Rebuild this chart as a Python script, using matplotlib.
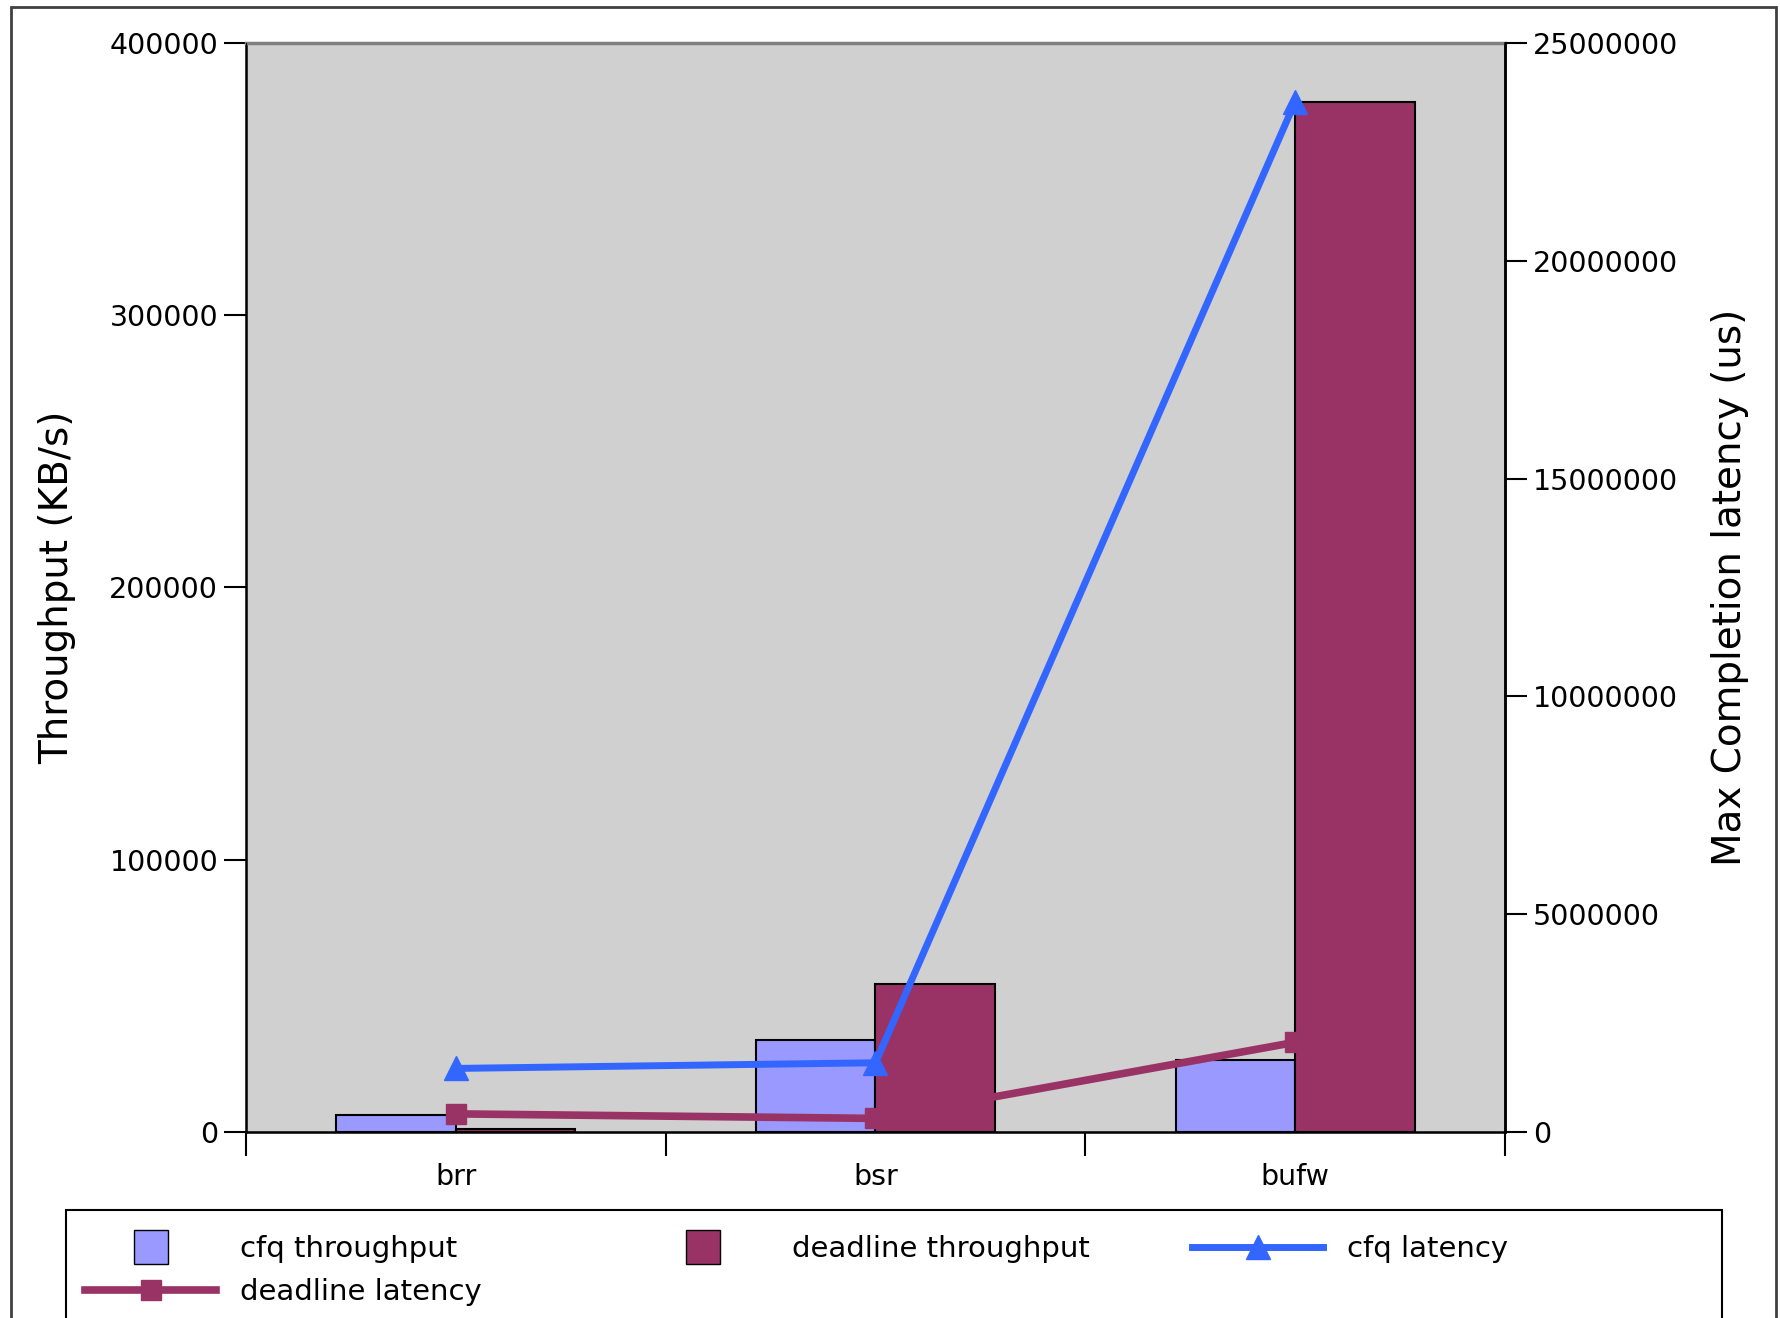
import numpy as np
import matplotlib
matplotlib.use('Agg')
import matplotlib.pyplot as plt
from matplotlib.lines import Line2D
from matplotlib.patches import Rectangle

# data
categories = ['brr', 'bsr', 'bufw']
cfq_throughput = [6300, 33800, 26300]
deadline_throughput = [1000, 54200, 378300]
cfq_latency = [1460000, 1590000, 23650000]
deadline_latency = [417000, 313000, 2060000]

left_ticks = [0, 100000, 200000, 300000, 400000]
right_ticks = [0, 5000000, 10000000, 15000000, 20000000, 25000000]

cfq_bar_color = '#9999FF'
deadline_bar_color = '#993366'
cfq_line_color = '#3366FF'
deadline_line_color = '#993366'

plt.rcParams['font.family'] = ['DejaVu Sans']

fig = plt.figure(figsize=(17.8, 13.18), dpi=100)
ax = fig.add_axes([0.1382, 0.1411, 0.7073, 0.8263])
ax.set_facecolor('#D0D0D0')

x = np.arange(len(categories))
w = 0.285
ax.bar(x - w / 2, cfq_throughput, w, color=cfq_bar_color, edgecolor='black', linewidth=1.5, zorder=2)
ax.bar(x + w / 2, deadline_throughput, w, color=deadline_bar_color, edgecolor='black', linewidth=1.5, zorder=2)

ax.set_xlim(-0.5, 2.5)
ax.set_ylim(0, 400000)
ax.set_yticks(left_ticks)
ax.set_yticklabels([str(t) for t in left_ticks])
ax.set_xticks(x)
ax.set_xticklabels(categories)
ax.set_xticks([-0.5, 0.5, 1.5, 2.5], minor=True)
ax.tick_params(axis='x', which='major', length=0, labelsize=20.5, pad=22)
ax.tick_params(axis='x', which='minor', length=17, width=1.5, direction='out')
ax.tick_params(axis='y', length=16, width=1.5, labelsize=20.5, pad=4)
ax.set_ylabel('Throughput (KB/s)', fontsize=28, labelpad=24)

for side in ['left', 'bottom', 'right']:
    ax.spines[side].set_linewidth(1.8)
    ax.spines[side].set_color('black')
ax.spines['top'].set_color('#808080')
ax.spines['top'].set_linewidth(2.5)

ax2 = ax.twinx()
ax2.set_ylim(0, 25000000)
ax2.set_yticks(right_ticks)
ax2.set_yticklabels([str(t) for t in right_ticks])
ax2.tick_params(axis='y', length=16, width=1.5, labelsize=20.5, pad=4)
ax2.set_ylabel('Max Completion latency (us)', fontsize=28, labelpad=24)
ax2.spines['right'].set_linewidth(1.8)
ax2.spines['top'].set_visible(False)

ax2.plot(x, cfq_latency, color=cfq_line_color, linewidth=5, marker='^', markersize=17, zorder=3)
ax2.plot(x, deadline_latency, color=deadline_line_color, linewidth=5.5, marker='s', markersize=15, zorder=3)

# legend frame (runs off the bottom of the picture, as in the reference)
fig.patches.append(Rectangle((0.0371, -0.05), 0.9305, 0.1319, transform=fig.transFigure,
                             fill=False, edgecolor='black', linewidth=1.5))

# one legend per entry so each sits where it does in the reference
entries = [
    (Line2D([], [], linestyle='none', marker='s', markersize=24,
            markerfacecolor=cfq_bar_color, markeredgecolor='black'), 'cfq throughput', 0.0478, 0.0524),
    (Line2D([], [], linestyle='none', marker='s', markersize=24,
            markerfacecolor=deadline_bar_color, markeredgecolor='black'), 'deadline throughput', 0.3583, 0.0524),
    (Line2D([], [], color=cfq_line_color, linewidth=5, marker='^', markersize=17), 'cfq latency', 0.6697, 0.0524),
    (Line2D([], [], color=deadline_line_color, linewidth=5.5, marker='s', markersize=15), 'deadline latency', 0.0478, 0.0197),
]
for handle, label, lx, ly in entries:
    fig.legend([handle], [label], loc='center left', bbox_to_anchor=(lx, ly),
               frameon=False, fontsize=21, handlelength=4.5, handletextpad=0.8,
               borderpad=0, borderaxespad=0)

# outer border round the whole picture
fig.patches.append(Rectangle((0.006, -0.1), 0.992, 1.095, transform=fig.transFigure,
                             fill=False, edgecolor='#404040', linewidth=2))

fig.savefig('out.png', dpi=100)
